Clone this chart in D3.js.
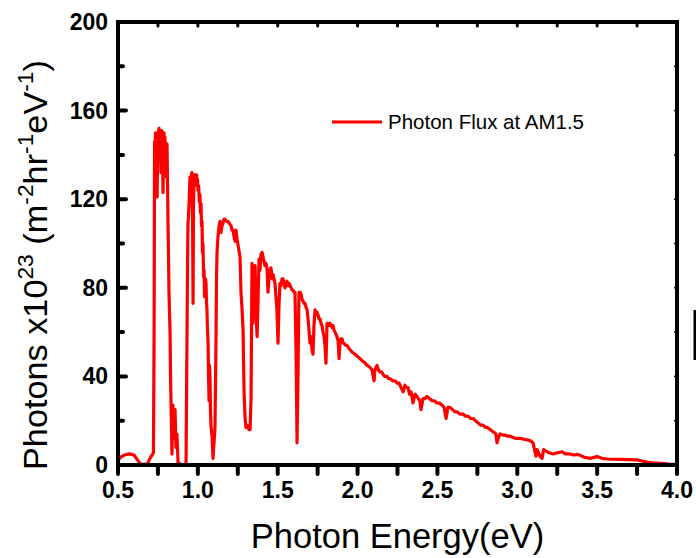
<!DOCTYPE html>
<html>
<head>
<meta charset="utf-8">
<script src="https://cdn.jsdelivr.net/npm/d3@7"></script>
<style>
  body { margin: 0; background: #fff; }
  text { font-family: Arial, "Liberation Sans", sans-serif; }
</style>
</head>
<body>
<div id="chart"></div>
<script>
// photon energy (eV) and flux (x10^23 m^-2 hr^-1 eV^-1)
const energy = [
  0.50, 0.515, 0.54, 0.57, 0.60, 0.625, 0.64, 0.66, 0.685, 0.70, 0.713, 0.722,
  0.726, 0.729, 0.732, 0.735, 0.738, 0.742, 0.745, 0.748, 0.750, 0.754, 0.757, 0.760,
  0.763, 0.766, 0.769, 0.772, 0.775, 0.778, 0.782, 0.785, 0.788, 0.791, 0.794, 0.797,
  0.800, 0.803, 0.807, 0.810, 0.813, 0.816, 0.819, 0.822, 0.826, 0.829, 0.832, 0.838,
  0.844, 0.850, 0.857, 0.863, 0.869, 0.876, 0.90, 0.926, 0.929, 0.932, 0.935, 0.938,
  0.941, 0.945, 0.948, 0.951, 0.954, 0.957, 0.960, 0.963, 0.967, 0.970, 0.973, 0.976,
  0.979, 0.982, 0.985, 0.988, 0.992, 0.995, 0.998, 1.001, 1.005, 1.009, 1.013, 1.016,
  1.020, 1.023, 1.026, 1.029, 1.032, 1.036, 1.039, 1.042, 1.045, 1.048, 1.051, 1.054,
  1.057, 1.060, 1.064, 1.067, 1.070, 1.073, 1.076, 1.079, 1.082, 1.086, 1.089, 1.095,
  1.101, 1.107, 1.111, 1.114, 1.117, 1.120, 1.126, 1.133, 1.139, 1.145, 1.151, 1.157,
  1.164, 1.170, 1.180, 1.189, 1.198, 1.208, 1.214, 1.220, 1.227, 1.233, 1.239, 1.245,
  1.250, 1.257, 1.264, 1.270, 1.277, 1.283, 1.289, 1.295, 1.301, 1.308, 1.314, 1.320,
  1.327, 1.333, 1.339, 1.345, 1.352, 1.358, 1.364, 1.371, 1.377, 1.383, 1.389, 1.395,
  1.402, 1.408, 1.414, 1.420, 1.427, 1.433, 1.439, 1.446, 1.452, 1.458, 1.465, 1.471,
  1.477, 1.483, 1.489, 1.495, 1.502, 1.508, 1.514, 1.521, 1.527, 1.533, 1.540, 1.546,
  1.552, 1.558, 1.565, 1.571, 1.577, 1.584, 1.590, 1.596, 1.602, 1.608, 1.615, 1.621,
  1.627, 1.633, 1.640, 1.646, 1.652, 1.658, 1.665, 1.671, 1.678, 1.684, 1.690, 1.696,
  1.702, 1.708, 1.715, 1.721, 1.727, 1.734, 1.740, 1.746, 1.752, 1.758, 1.765, 1.771,
  1.777, 1.784, 1.790, 1.796, 1.802, 1.809, 1.815, 1.821, 1.827, 1.834, 1.840, 1.846,
  1.852, 1.859, 1.865, 1.871, 1.878, 1.884, 1.890, 1.896, 1.903, 1.909, 1.915, 1.925,
  1.934, 1.943, 1.953, 1.965, 1.984, 2.000, 2.015, 2.030, 2.047, 2.060, 2.078, 2.090,
  2.103, 2.109, 2.122, 2.130, 2.140, 2.150, 2.159, 2.170, 2.184, 2.193, 2.203, 2.220,
  2.235, 2.248, 2.260, 2.272, 2.285, 2.297, 2.306, 2.316, 2.325, 2.335, 2.347, 2.360,
  2.372, 2.380, 2.390, 2.397, 2.410, 2.422, 2.435, 2.450, 2.466, 2.480, 2.497, 2.512,
  2.529, 2.542, 2.554, 2.566, 2.579, 2.595, 2.610, 2.625, 2.640, 2.660, 2.676, 2.692,
  2.708, 2.723, 2.738, 2.754, 2.770, 2.786, 2.800, 2.811, 2.830, 2.848, 2.860, 2.866,
  2.873, 2.885, 2.892, 2.910, 2.923, 2.940, 2.955, 2.970, 2.990, 3.017, 3.050, 3.080,
  3.099, 3.110, 3.117, 3.124, 3.130, 3.142, 3.155, 3.165, 3.174, 3.200, 3.224, 3.250,
  3.280, 3.300, 3.330, 3.355, 3.380, 3.420, 3.455, 3.499, 3.530, 3.562, 3.600, 3.643,
  3.700, 3.750, 3.780, 3.812, 3.850, 3.900, 3.950, 4.000
];
const flux = [
  2, 3.5, 4.5, 5, 4.5, 2, 0.5, 0.3, 0.5, 3, 4.5, 5.5,
  60, 146, 140, 150, 145, 148, 121, 140, 147, 151, 152, 147,
  150, 145, 132, 148, 151, 146, 123, 140, 150, 144, 148, 138,
  140, 130, 145, 128, 110, 96, 79, 70, 60, 40, 28, 5,
  27, 12, 25, 8, 14, 1, 0, 0.5, 30, 58, 85, 109,
  112, 118, 125, 130, 122, 127, 131, 132, 110, 73, 120, 128,
  131, 127, 131, 129, 131, 126, 129, 124, 126, 119, 122, 114,
  118, 108, 110, 96, 100, 85, 88, 76, 78, 84, 82, 74,
  70, 62, 55, 40, 29, 45, 40, 25, 18, 15, 13, 3,
  10, 16, 40, 60, 85, 96, 103, 108, 110, 105, 108, 109,
  111, 111, 110, 110, 109, 108, 106, 106, 103, 101, 106, 102,
  100, 97, 94, 78, 70, 61, 34, 22, 17, 18, 17, 16,
  16, 30, 91, 64, 88, 90, 70, 58, 75, 93, 88, 95,
  96, 94, 92, 90, 91, 89, 78, 85, 88, 89, 84, 86,
  84, 82, 76, 70, 55, 72, 82, 81, 84, 84, 82, 80,
  82, 83, 81, 82, 81, 80, 79, 79, 78, 78, 50, 10,
  40, 78, 78, 77, 75, 74, 73, 73, 71, 70, 66, 61,
  55, 58, 52, 50, 63, 70, 68, 69, 68, 66, 66, 64,
  63, 60, 58, 54, 46, 64, 64, 63, 64, 63, 62, 63,
  61, 60, 59, 58, 56, 48, 55, 57, 57, 55, 55, 54,
  54, 53, 52, 51, 50, 49, 48, 47, 46, 45, 44, 43,
  38, 43, 45, 43, 42, 42, 41, 40, 40, 39, 39, 38,
  38, 37, 37, 35, 33, 36, 35, 35, 32, 33, 28, 32,
  31, 30, 29, 25, 30, 30, 31, 30, 29, 29, 28, 28,
  27, 26, 21, 26, 26, 25, 24, 24, 23, 23, 22, 22,
  21, 21, 20, 19, 18, 18, 17, 17, 16, 15, 14.5, 14,
  10, 13, 14, 13.5, 13.5, 13, 13, 12.5, 12, 12, 11.5, 11,
  10, 6, 4, 7, 6, 4, 3, 7, 6.5, 5.5, 5, 5.5,
  6, 5, 5, 4.5, 4.8, 3.5, 3, 3.8, 3, 2.7, 2.6, 2.5,
  2.4, 2.3, 1.8, 1.3, 1.0, 0.7, 0.4, 0.3
];
const xTicks = [0.5, 1.0, 1.5, 2.0, 2.5, 3.0, 3.5, 4.0];
const yTicks = [0, 40, 80, 120, 160, 200];
const legendLabel = "Photon Flux at AM1.5";

const width = 696;
const height = 558;
const margin = { top: 22, right: 19, bottom: 93, left: 118 };

const svg = d3.select("#chart")
  .append("svg")
  .attr("width", width)
  .attr("height", height);

const x = d3.scaleLinear().domain([0.5, 4.0]).range([margin.left, width - margin.right]);
const y = d3.scaleLinear().domain([0, 200]).range([height - margin.bottom, margin.top]);

const data = energy.map((e, i) => ({ e: e, v: flux[i] }));

// the spectrum
svg.append("path")
  .datum(data)
  .attr("fill", "none")
  .attr("stroke", "#ff0000")
  .attr("stroke-width", 3.2)
  .attr("stroke-linejoin", "round")
  .attr("d", d3.line().x(d => x(d.e)).y(d => y(d.v)));

// minor tick positions
const xMinor = d3.range(0.75, 4.0, 0.5);
const yMinor = d3.range(20, 200, 40);

// bottom axis: ticks point outwards
const bottom = svg.append("g").attr("transform", `translate(0,${y(0)})`);
bottom.selectAll("line.tk")
  .data(xTicks.concat(xMinor))
  .enter().append("line")
  .attr("class", "tk")
  .attr("x1", d => x(d)).attr("x2", d => x(d))
  .attr("y1", 0).attr("y2", 9)
  .attr("stroke", "#000").attr("stroke-width", 4).attr("stroke-linecap", "round");
bottom.selectAll("text")
  .data(xTicks)
  .enter().append("text")
  .attr("x", d => x(d))
  .attr("y", 33)
  .attr("text-anchor", "middle")
  .style("font-size", "23px")
  .style("font-weight", "bold")
  .text(d => d3.format(".1f")(d));

// top axis: short inward ticks
svg.selectAll("line.top")
  .data(xTicks.concat(xMinor))
  .enter().append("line")
  .attr("class", "top")
  .attr("x1", d => x(d)).attr("x2", d => x(d))
  .attr("y1", y(200)).attr("y2", y(200) + 4)
  .attr("stroke", "#000").attr("stroke-width", 3).attr("stroke-linecap", "round");

// left axis: inward ticks
svg.selectAll("line.left")
  .data(yTicks.map(v => ({ v: v, len: 8 })).concat(yMinor.map(v => ({ v: v, len: 5 }))))
  .enter().append("line")
  .attr("class", "left")
  .attr("x1", x(0.5)).attr("x2", d => x(0.5) + d.len)
  .attr("y1", d => y(d.v)).attr("y2", d => y(d.v))
  .attr("stroke", "#000").attr("stroke-width", 4).attr("stroke-linecap", "round");
svg.selectAll("text.ylab")
  .data(yTicks)
  .enter().append("text")
  .attr("class", "ylab")
  .attr("x", x(0.5) - 10)
  .attr("y", d => y(d) + 8)
  .attr("text-anchor", "end")
  .style("font-size", "23px")
  .style("font-weight", "bold")
  .text(d => d);

// right axis: tiny inward ticks
svg.selectAll("line.right")
  .data(yTicks.concat(yMinor))
  .enter().append("line")
  .attr("class", "right")
  .attr("x1", x(4.0)).attr("x2", x(4.0) - 3)
  .attr("y1", d => y(d)).attr("y2", d => y(d))
  .attr("stroke", "#000").attr("stroke-width", 1.5);

// frame
svg.append("rect")
  .attr("x", x(0.5)).attr("y", y(200))
  .attr("width", x(4.0) - x(0.5))
  .attr("height", y(0) - y(200))
  .attr("fill", "none")
  .attr("stroke", "#000")
  .attr("stroke-width", 4);

// axis titles
svg.append("text")
  .attr("x", (x(0.5) + x(4.0)) / 2)
  .attr("y", 548)
  .attr("text-anchor", "middle")
  .style("font-size", "34.5px")
  .text("Photon Energy(eV)");

const yTitle = svg.append("text")
  .attr("transform", "translate(47,470) rotate(-90)")
  .attr("x", 0).attr("y", 0)
  .attr("textLength", 410)
  .attr("lengthAdjust", "spacingAndGlyphs")
  .style("font-size", "33px");
yTitle.append("tspan").text("Photons x10");
yTitle.append("tspan").attr("dy", -14).style("font-size", "22px").text("23");
yTitle.append("tspan").attr("dy", 14).text(" (m");
yTitle.append("tspan").attr("dy", -14).style("font-size", "22px").text("-2");
yTitle.append("tspan").attr("dy", 14).text("hr");
yTitle.append("tspan").attr("dy", -14).style("font-size", "22px").text("-1");
yTitle.append("tspan").attr("dy", 14).text("eV");
yTitle.append("tspan").attr("dy", -14).style("font-size", "22px").text("-1");
yTitle.append("tspan").attr("dy", 14).text(")");

// legend
svg.append("line")
  .attr("x1", 332).attr("x2", 382)
  .attr("y1", 122).attr("y2", 122)
  .attr("stroke", "#ff0000").attr("stroke-width", 3);
svg.append("text")
  .attr("x", 388).attr("y", 129)
  .style("font-size", "20.5px")
  .text(legendLabel);

// stray mark at the right edge of the original figure
svg.append("line")
  .attr("x1", 695).attr("x2", 695)
  .attr("y1", 310).attr("y2", 360)
  .attr("stroke", "#000").attr("stroke-width", 3);
</script>
</body>
</html>
